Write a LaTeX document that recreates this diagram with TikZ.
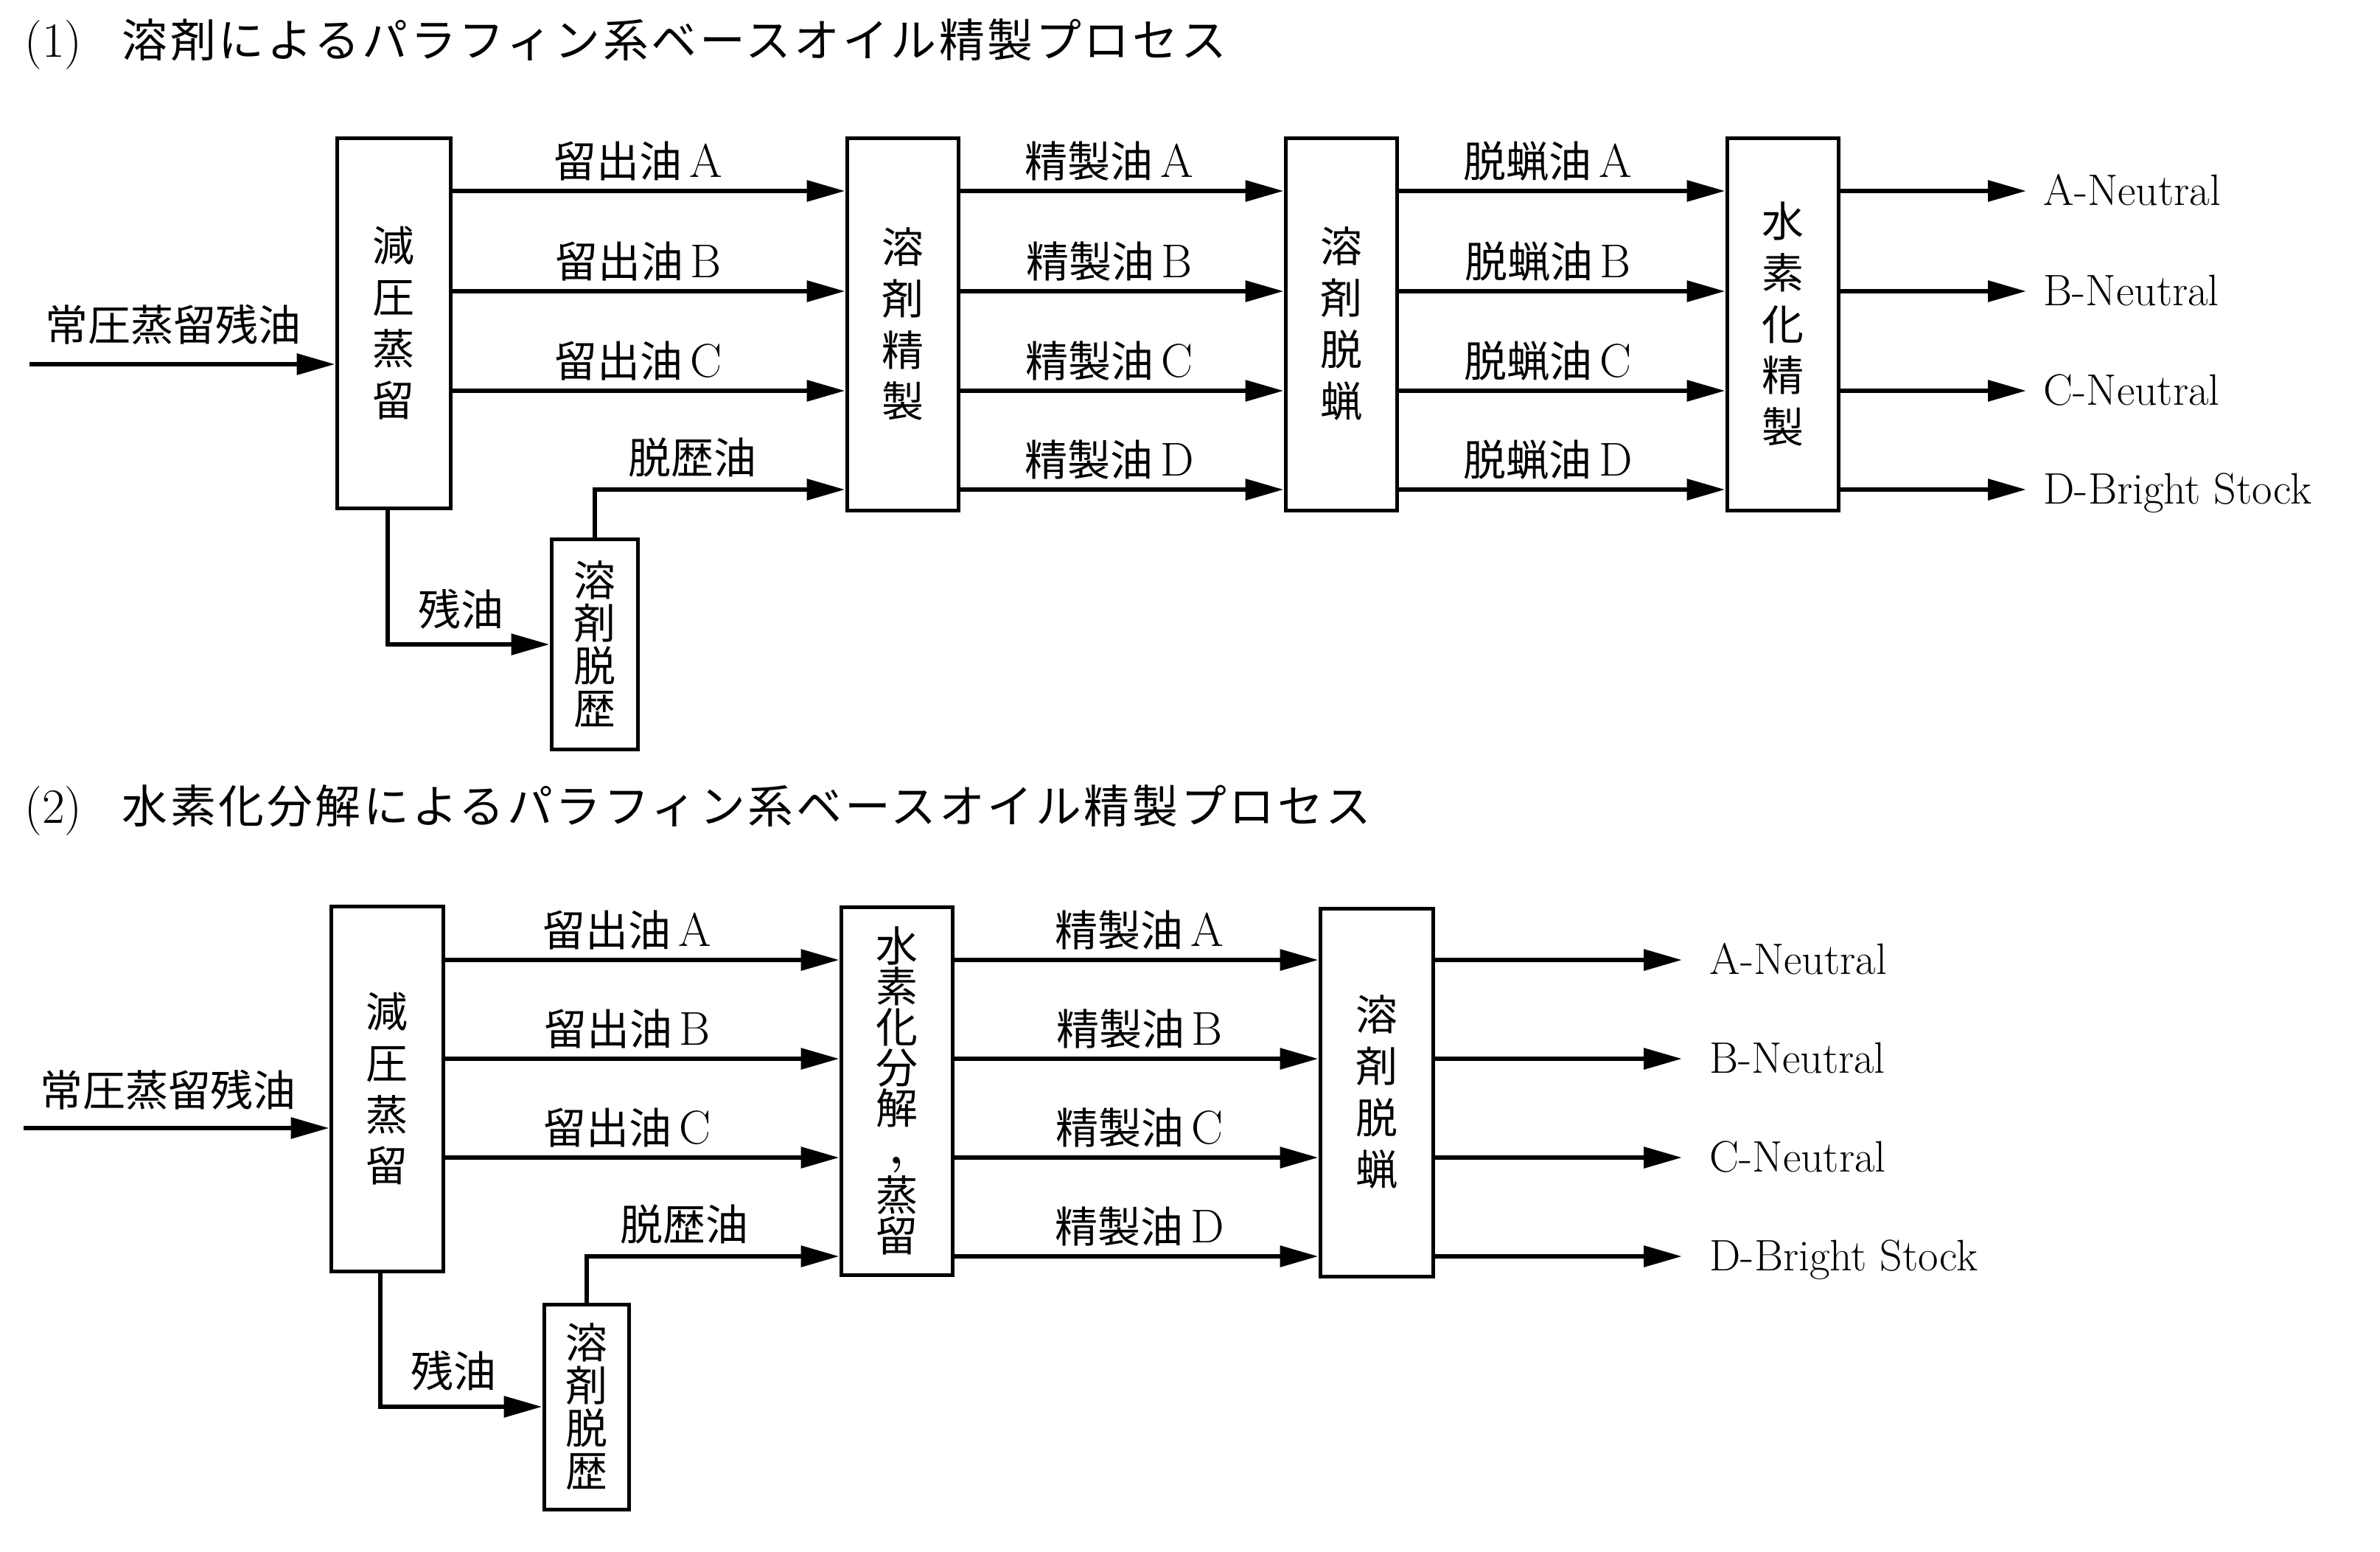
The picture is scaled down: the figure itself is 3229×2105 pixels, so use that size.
\documentclass[tikz,border=0pt]{standalone}
\usepackage{fontspec}
\newfontfamily\jp{Noto Sans CJK JP}
\newfontfamily\jpt[LetterSpace=6]{Noto Sans CJK JP}
\newcommand\latb{\addfontfeatures{FakeBold=2}}
\newcommand\Lt[1]{\,{\fontsize{18.3pt}{20pt}\selectfont\latb #1}}
\usetikzlibrary{arrows.meta}
\begin{document}
\begin{tikzpicture}[x=0.1mm,y=-0.1mm,
  proc/.style={draw,line width=0.5mm,inner sep=0pt,align=center,font=\jp\fontsize{16.2pt}{19.9pt}\selectfont},
  arr/.style={line width=0.6mm,-{Triangle[length=5.2mm,width=2.8mm]}},
  lbl/.style={anchor=base,inner sep=0pt,font=\fontsize{16.5pt}{20pt}\selectfont},
  outl/.style={anchor=base west,inner sep=0pt,font=\fontsize{17pt}{20pt}\selectfont\latb},
  ttl/.style={anchor=base west,inner sep=0pt},
]
\useasboundingbox[fill=white] (0,0) rectangle (3229,2105);

% ---------------- Part (1) ----------------
\node[ttl,font=\fontsize{19pt}{20pt}\selectfont\latb] (t1n) at (33,77) {(1)};
\node[ttl,font=\jpt\fontsize{17.6pt}{20pt}\selectfont] (t1) at (165,77) {溶剤によるパラフィン系ベースオイル精製プロセス};

\node[proc,minimum width=15.4mm,minimum height=50.2mm] (a1) at (534,438) {減\\圧\\蒸\\留};
\node[proc,minimum width=15.1mm,minimum height=50.5mm] (a2) at (1224.5,439.5) {溶\\剤\\精\\製};
\node[proc,minimum width=15.1mm,minimum height=50.5mm] (a3) at (1819.5,439.5) {溶\\剤\\脱\\蝋};
\node[proc,minimum width=15.1mm,minimum height=50.5mm] (a4) at (2418.5,439.5) {水\\素\\化\\精\\製};
\node[proc,minimum width=11.7mm,minimum height=28.5mm,font=\jp\fontsize{16.2pt}{16.5pt}\selectfont] (as) at (806.5,874) {溶\\剤\\脱\\歴};

\coordinate (ya) at (0,259);
\coordinate (yb) at (0,395);
\coordinate (yc) at (0,530);
\coordinate (yd) at (0,664);
\coordinate (ain) at (40,494);

\draw[arr] (ain) -- (ain -| a1.west);
\node[lbl,font=\jp\fontsize{16.5pt}{20pt}\selectfont] (lin1) at (235,462) {常圧蒸留残油};

\foreach \y in {ya,yb,yc}{
  \draw[arr] (a1.east |- \y) -- (a2.west |- \y);
}
\draw[arr] ([xshift=-0.8mm]a1.south) |- (as.west);
\draw[arr] (as.north) |- (a2.west |- yd);
\node[lbl,font=\jp\fontsize{16.5pt}{20pt}\selectfont] (lz1) at (625,848) {残油};
\node[lbl,font=\jp\fontsize{16.5pt}{20pt}\selectfont] (ld1) at (939,642) {脱歴油};
\node[lbl] (l1a) at (866,240) {{\jp 留出油}\Lt{A}};
\node[lbl] (l1b) at (866,376) {{\jp 留出油}\Lt{B}};
\node[lbl] (l1c) at (866,511) {{\jp 留出油}\Lt{C}};

\foreach \y in {ya,yb,yc,yd}{
  \draw[arr] (a2.east |- \y) -- (a3.west |- \y);
  \draw[arr] (a3.east |- \y) -- (a4.west |- \y);
}
\node[lbl] (l2a) at (1505,240) {{\jp 精製油}\Lt{A}};
\node[lbl] (l2b) at (1505,376) {{\jp 精製油}\Lt{B}};
\node[lbl] (l2c) at (1505,511) {{\jp 精製油}\Lt{C}};
\node[lbl] (l2d) at (1505,645) {{\jp 精製油}\Lt{D}};
\node[lbl] (l3a) at (2100,240) {{\jp 脱蝋油}\Lt{A}};
\node[lbl] (l3b) at (2100,376) {{\jp 脱蝋油}\Lt{B}};
\node[lbl] (l3c) at (2100,511) {{\jp 脱蝋油}\Lt{C}};
\node[lbl] (l3d) at (2100,645) {{\jp 脱蝋油}\Lt{D}};

\coordinate (oa) at (2749,259);
\coordinate (ob) at (2749,395);
\coordinate (oc) at (2749,530);
\coordinate (od) at (2749,664);
\foreach \o in {oa,ob,oc,od}{
  \draw[arr] (a4.east |- \o) -- (\o);
}
\node[outl] (n1a) at (2772,278) {A-Neutral};
\node[outl] (n1b) at (2772,414) {B-Neutral};
\node[outl] (n1c) at (2772,549) {C-Neutral};
\node[outl] (n1d) at (2772,683) {D-Bright Stock};

% ---------------- Part (2) ----------------
\node[ttl,font=\fontsize{19pt}{20pt}\selectfont\latb] (t2n) at (33,1116) {(2)};
\node[ttl,font=\jpt\fontsize{17.6pt}{20pt}\selectfont] (t2) at (165,1116) {水素化分解によるパラフィン系ベースオイル精製プロセス};

\node[proc,minimum width=15.2mm,minimum height=49.5mm] (c1) at (525,1476.5) {減\\圧\\蒸\\留};
\node[proc,minimum width=15.1mm,minimum height=49.9mm,font=\jp\fontsize{16.2pt}{15.6pt}\selectfont] (c2) at (1216.5,1479.5) {水\\素\\化\\分\\解\\{\fontsize{18pt}{15.6pt}\selectfont\rmfamily\bfseries ,}\\蒸\\留};
\node[proc,minimum width=15.3mm,minimum height=49.9mm] (c3) at (1867.5,1481.5) {溶\\剤\\脱\\蝋};
\node[proc,minimum width=11.5mm,minimum height=27.8mm,font=\jp\fontsize{16.2pt}{16.5pt}\selectfont] (cs) at (795.5,1908) {溶\\剤\\脱\\歴};

\coordinate (za) at (0,1302);
\coordinate (zb) at (0,1436);
\coordinate (zc) at (0,1570);
\coordinate (zd) at (0,1704);
\coordinate (cin) at (32,1530);

\draw[arr] (cin) -- (cin -| c1.west);
\node[lbl,font=\jp\fontsize{16.5pt}{20pt}\selectfont] (lin2) at (228,1500) {常圧蒸留残油};

\foreach \y in {za,zb,zc}{
  \draw[arr] (c1.east |- \y) -- (c2.west |- \y);
}
\draw[arr] ([xshift=-0.9mm]c1.south) |- (cs.west);
\draw[arr] (cs.north) |- (c2.west |- zd);
\node[lbl,font=\jp\fontsize{16.5pt}{20pt}\selectfont] (lz2) at (615,1881) {残油};
\node[lbl,font=\jp\fontsize{16.5pt}{20pt}\selectfont] (ld2) at (928,1682) {脱歴油};
\node[lbl] (m1a) at (851,1283) {{\jp 留出油}\Lt{A}};
\node[lbl] (m1b) at (851,1417) {{\jp 留出油}\Lt{B}};
\node[lbl] (m1c) at (851,1551) {{\jp 留出油}\Lt{C}};

\foreach \y in {za,zb,zc,zd}{
  \draw[arr] (c2.east |- \y) -- (c3.west |- \y);
}
\node[lbl] (m2a) at (1546,1283) {{\jp 精製油}\Lt{A}};
\node[lbl] (m2b) at (1546,1417) {{\jp 精製油}\Lt{B}};
\node[lbl] (m2c) at (1546,1551) {{\jp 精製油}\Lt{C}};
\node[lbl] (m2d) at (1546,1685) {{\jp 精製油}\Lt{D}};

\coordinate (pa) at (2282,1302);
\coordinate (pb) at (2282,1436);
\coordinate (pc) at (2282,1570);
\coordinate (pd) at (2282,1704);
\foreach \o in {pa,pb,pc,pd}{
  \draw[arr] (c3.east |- \o) -- (\o);
}
\node[outl] (n2a) at (2319,1321) {A-Neutral};
\node[outl] (n2b) at (2319,1455) {B-Neutral};
\node[outl] (n2c) at (2319,1589) {C-Neutral};
\node[outl] (n2d) at (2319,1723) {D-Bright Stock};
\end{tikzpicture}
\end{document}
